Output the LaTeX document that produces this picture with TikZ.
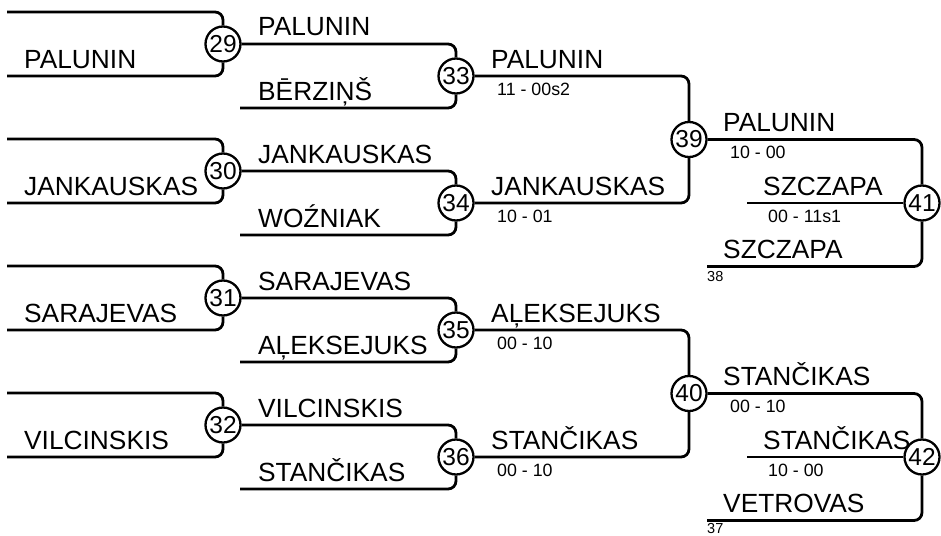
\documentclass[tikz,border=0pt]{standalone}
\usepackage{fontspec}
\setmainfont{Liberation Sans}
\begin{document}
\begin{tikzpicture}[x=1pt,y=-1pt,
  match/.style={circle,draw,line width=2.3pt,fill=white,inner sep=0pt,minimum size=35pt,font=\fontsize{24.5}{24.5}\selectfont},
  link/.style={line width=2.8pt,rounded corners=8pt},
  player/.style={anchor=base west,inner sep=0pt,font=\fontsize{26.3}{26.3}\selectfont},
  score/.style={anchor=base west,inner sep=0pt,font=\fontsize{17.8}{17.8}\selectfont},
  seed/.style={anchor=north west,inner sep=0pt,font=\fontsize{14.5}{14.5}\selectfont}]
\useasboundingbox (0,0) rectangle (941,535);
% coordinates of free line ends
\coordinate (a29) at (7,12);    \coordinate (b29) at (7,76);
\coordinate (a30) at (7,139);   \coordinate (b30) at (7,203);
\coordinate (a31) at (7,266);   \coordinate (b31) at (7,330);
\coordinate (a32) at (7,393);   \coordinate (b32) at (7,457);
\coordinate (b33) at (240,108); \coordinate (b34) at (240,235);
\coordinate (b35) at (240,362); \coordinate (b36) at (240,489);
\coordinate (m41) at (747,203); \coordinate (b41) at (707,266.5);
\coordinate (m42) at (747,457); \coordinate (b42) at (707,520.5);
% circles (positions)
\path (223,44) coordinate (p29) (223,171) coordinate (p30) (223,298) coordinate (p31) (223,425) coordinate (p32)
      (456,76) coordinate (p33) (456,203) coordinate (p34) (456,330) coordinate (p35) (456,457) coordinate (p36)
      (689,139.5) coordinate (p39) (689,393.5) coordinate (p40)
      (922,203) coordinate (p41) (922,457) coordinate (p42);
% invisible circle nodes for anchors
\foreach \n in {29,30,31,32,33,34,35,36,39,40,41,42}
  \node[match,draw=none,fill=none,text opacity=0] (c\n) at (p\n) {\n};
% connectors
\draw[link] (a29) -| (c29.north); \draw[link] (b29) -| (c29.south);
\draw[link] (a30) -| (c30.north); \draw[link] (b30) -| (c30.south);
\draw[link] (a31) -| (c31.north); \draw[link] (b31) -| (c31.south);
\draw[link] (a32) -| (c32.north); \draw[link] (b32) -| (c32.south);
\draw[link] (c29.east) -| (c33.north); \draw[link] (b33) -| (c33.south);
\draw[link] (c30.east) -| (c34.north); \draw[link] (b34) -| (c34.south);
\draw[link] (c31.east) -| (c35.north); \draw[link] (b35) -| (c35.south);
\draw[link] (c32.east) -| (c36.north); \draw[link] (b36) -| (c36.south);
\draw[link] (c33.east) -| (c39.north); \draw[link] (c34.east) -| (c39.south);
\draw[link] (c35.east) -| (c40.north); \draw[link] (c36.east) -| (c40.south);
\draw[link] (c39.east) -| (c41.north); \draw[link] (m41) -- (c41.west); \draw[link] (b41) -| (c41.south);
\draw[link] (c40.east) -| (c42.north); \draw[link] (m42) -- (c42.west); \draw[link] (b42) -| (c42.south);
% visible circles
\foreach \n in {29,30,31,32,33,34,35,36,39,40,41,42}
  \node[match] (m\n) at (p\n) {\n};
% round 1 names
\node[player] (t1) at (24,68) {PALUNIN};
\node[player] (t2) at (24,195) {JANKAUSKAS};
\node[player] (t3) at (24,322) {SARAJEVAS};
\node[player] (t4) at (24,449) {VILCINSKIS};
% round 2 names
\node[player] (t5) at (258,36) {PALUNIN};
\node[player] (t6) at (258,100) {BĒRZIŅŠ};
\node[player] (t7) at (258,163) {JANKAUSKAS};
\node[player] (t8) at (258,227) {WOŹNIAK};
\node[player] (t9) at (258,290) {SARAJEVAS};
\node[player] (t10) at (258,354) {AĻEKSEJUKS};
\node[player] (t11) at (258,417) {VILCINSKIS};
\node[player] (t12) at (258,481) {STANČIKAS};
% round 3
\node[player] (t13) at (491,68) {PALUNIN};
\node[score] (s13) at (497,95) {11 - 00s2};
\node[player] (t14) at (491,195) {JANKAUSKAS};
\node[score] (s14) at (497,222) {10 - 01};
\node[player] (t15) at (491,322) {AĻEKSEJUKS};
\node[score] (s15) at (497,349) {00 - 10};
\node[player] (t16) at (491,449) {STANČIKAS};
\node[score] (s16) at (497,476) {00 - 10};
% round 4
\node[player] (t17) at (723,131.5) {PALUNIN};
\node[score] (s17) at (730,158.5) {10 - 00};
\node[player] (t18) at (763,195) {SZCZAPA};
\node[score] (s18) at (768,222) {00 - 11s1};
\node[player] (t19) at (723,258.5) {SZCZAPA};
\node[seed] (d19) at (707,271.5) {38};
\node[player] (t20) at (723,385.5) {STANČIKAS};
\node[score] (s20) at (730,412.5) {00 - 10};
\node[player] (t21) at (763,449) {STANČIKAS};
\node[score] (s21) at (768,476) {10 - 00};
\node[player] (t22) at (723,512.5) {VETROVAS};
\node[seed] (d22) at (707,523.3) {37};
\end{tikzpicture}
\end{document}
